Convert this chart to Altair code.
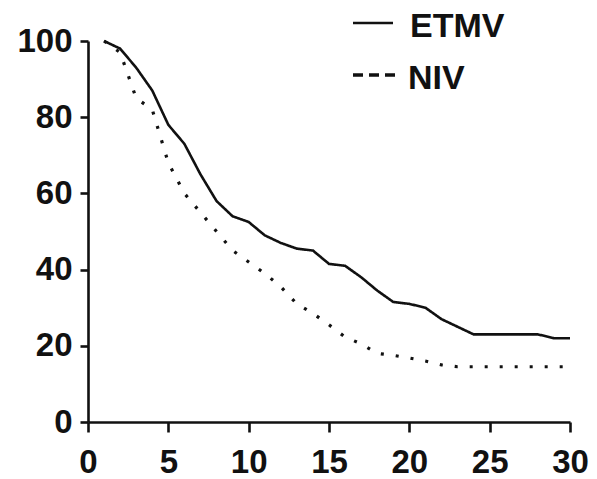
import altair as alt
import pandas as pd

days = list(range(1, 31))
etmv = [100, 98, 93, 87, 78, 73, 65, 58, 54, 52.5, 49, 47, 45.5, 45, 41.5, 41, 38, 34.5,
        31.5, 31, 30, 27, 25, 23, 23, 23, 23, 23, 22, 22]
niv = [100, 97, 85, 82, 68, 60, 55, 50, 45, 42, 39, 35.5, 31, 28.5, 25.5, 22.3, 20.5, 18,
       17.5, 16.8, 16, 15, 14.5, 14.5, 14.5, 14.5, 14.5, 14.5, 14.5, 14.5]
series_names = ["ETMV", "NIV"]
x_ticks = [0, 5, 10, 15, 20, 25, 30]
y_ticks = [0, 20, 40, 60, 80, 100]

df = pd.DataFrame({
    "day": days * 2,
    "pct": etmv + niv,
    "group": [series_names[0]] * len(days) + [series_names[1]] * len(days),
})

FONT = "Liberation Sans"
INK = "#111111"

lines = alt.Chart(df).mark_line(color=INK).encode(
    x=alt.X("day:Q", scale=alt.Scale(domain=[0, 30], nice=False),
            axis=alt.Axis(values=x_ticks, title=None, tickSize=10, labelPadding=14,
                          labelFlush=False)),
    y=alt.Y("pct:Q", scale=alt.Scale(domain=[0, 100], nice=False),
            axis=alt.Axis(values=y_ticks, title=None, tickSize=8, labelPadding=8)),
    strokeDash=alt.StrokeDash("group:N", scale=alt.Scale(domain=series_names,
                              range=[[1, 0], [3, 12]]), legend=None),
    strokeWidth=alt.StrokeWidth("group:N", scale=alt.Scale(domain=series_names,
                                range=[2.6, 3.2]), legend=None),
    detail="group:N",
)

leg1_line = alt.Chart(pd.DataFrame({"label": [series_names[0]]})).mark_rule(
    color=INK, strokeWidth=2.6).encode(x=alt.value(265), x2=alt.value(305), y=alt.value(-18))
leg2_line = alt.Chart(pd.DataFrame({"label": [series_names[1]]})).mark_rule(
    color=INK, strokeWidth=3.5, strokeDash=[10, 6]).encode(x=alt.value(265), x2=alt.value(309), y=alt.value(34))
leg1_text = alt.Chart(pd.DataFrame({"label": [series_names[0]]})).mark_text(
    font=FONT, fontSize=34, fontWeight="bold", color=INK, align="left", baseline="alphabetic").encode(
    x=alt.value(322), y=alt.value(-4), text="label:N")
leg2_text = alt.Chart(pd.DataFrame({"label": [series_names[1]]})).mark_text(
    font=FONT, fontSize=34, fontWeight="bold", color=INK, align="left", baseline="alphabetic").encode(
    x=alt.value(320), y=alt.value(48), text="label:N")

chart = alt.layer(lines, leg1_line, leg2_line, leg1_text, leg2_text).properties(
    width=482, height=381,
    autosize=alt.AutoSizeParams(type="none"),
    padding={"left": 88, "top": 41, "right": 27, "bottom": 57},
    background="white",
).configure_view(stroke=None).configure_axis(
    grid=False, domainColor=INK, domainWidth=2.6, tickColor=INK, tickWidth=2.6,
    labelFont=FONT, labelFontSize=33, labelFontWeight="bold", labelColor=INK,
)

chart.save("out.html", embed_options={"renderer": "svg", "actions": False})
